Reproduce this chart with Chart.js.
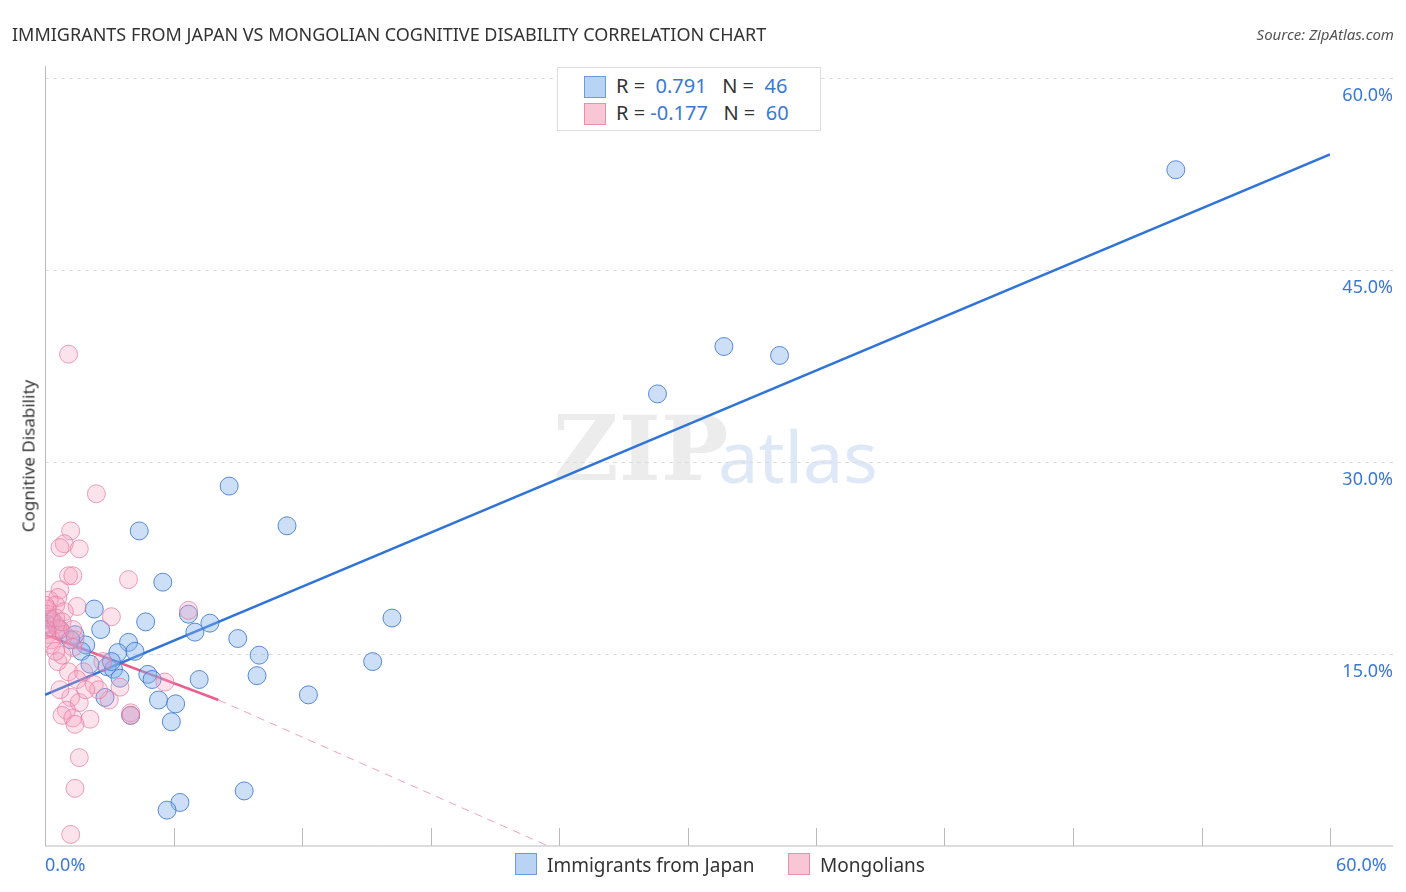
<!DOCTYPE html>
<html>
<head>
<meta charset="utf-8">
<script src="https://cdn.jsdelivr.net/npm/chart.js@4"></script>
<style>
  body { margin: 0; width: 1406px; height: 892px; background: #fff; font-family: "Noto Sans", sans-serif; overflow: hidden; }
  #wrap { position: absolute; left: 0; top: 0; width: 1406px; height: 892px; }
  .title { position: absolute; left: 12px; top: 22px; font-size: 18px; color: #333; }
  .source { position: absolute; right: 12px; top: 24px; font-size: 15px; color: #555; font-style: italic; }
  .ylabel { position: absolute; left: 28px; top: 456px; transform: translate(-50%, -50%) rotate(-90deg); font-size: 17px; color: #333; white-space: nowrap; }
  .legend { position: absolute; left: 557px; top: 67px; width: 262px; height: 62px; border: 1px solid #ddd; background: #fff; font-size: 20px; color: #333; }
  .legend div { position: absolute; left: 28px; height: 26px; line-height: 26px; }
  .legend span.v { color: #3a78d6; }
  .sw { position: absolute; left: -2px; width: 20px; height: 20px; border: 1px solid; }
  .bottom { position: absolute; top: 852px; font-size: 19px; color: #333; }
  .bsw { display: inline-block; width: 20px; height: 20px; border: 1px solid; vertical-align: -3px; margin-right: 10px; }
  .xl { position: absolute; top: 852px; font-size: 18px; color: #3a78d6; }
</style>
</head>
<body>
<div id="wrap"><canvas id="c" width="1406" height="892"></canvas></div>
<div class="title">IMMIGRANTS FROM JAPAN VS MONGOLIAN COGNITIVE DISABILITY CORRELATION CHART</div>
<div class="source">Source: ZipAtlas.com</div>
<div class="ylabel">Cognitive Disability</div>
<div class="legend">
  <div style="top:5px"><span class="sw" style="left:-2px;top:3px;background:#b9d3f5;border-color:#6d9be0;position:absolute"></span><span style="margin-left:30px">R = &nbsp;<span class="v">0.791</span> &nbsp;&nbsp;N = &nbsp;<span class="v">46</span></span></div>
  <div style="top:32px"><span class="sw" style="left:-2px;top:3px;background:#f9c6d6;border-color:#e891ad;position:absolute"></span><span style="margin-left:30px">R = <span class="v">-0.177</span> &nbsp;&nbsp;N = &nbsp;<span class="v">60</span></span></div>
</div>
<div class="xl" style="left:45px">0.0%</div>
<div class="xl" style="left:1336px">60.0%</div>
<div class="bottom" style="left:515px"><span class="bsw" style="background:#b9d3f5;border-color:#6d9be0"></span>Immigrants from Japan</div>
<div class="bottom" style="left:788px"><span class="bsw" style="background:#f9c6d6;border-color:#e891ad"></span>Mongolians</div>
<script>
// Immigrants from Japan (x %, y %)
const japanX = [52.8, 31.7, 34.3, 28.6, 8.6, 11.3, 4.4, 5.5, 16.2, 2.3, 6.7, 7.7, 4.7, 2.6, 7.0, 9.0, 3.9, 1.9, 1.4, 3.4, 4.2, 10.0, 15.3, 1.7, 2.1, 2.9, 3.2, 3.5, 4.8, 5.0, 9.9, 12.3, 2.8, 5.3, 6.1, 4.0, 5.9, 9.3, 6.3, 5.7, 0.3, 0.7, 0.1, 1.2, 3.1, 7.2];
const japanY = [52.8, 39.0, 38.3, 35.3, 28.1, 25.0, 24.6, 20.6, 17.8, 18.5, 18.1, 17.4, 17.5, 16.9, 16.7, 16.2, 15.9, 15.7, 16.5, 15.1, 15.2, 14.9, 14.4, 15.2, 14.2, 14.0, 13.8, 13.1, 13.4, 13.0, 13.3, 11.8, 11.6, 11.4, 11.1, 10.2, 9.7, 4.3, 3.4, 2.8, 17.7, 16.9, 17.3, 16.1, 14.4, 13.0];
// Mongolians
const mongolX = [1.1, 2.4, 1.2, 0.9, 0.7, 1.6, 1.1, 1.3, 3.9, 0.7, 0.6, 0.2, 1.5, 3.1, 0.5, 0.9, 0.1, 0.2, 0.5, 0.7, 0.1, 0.3, 0.6, 0.9, 1.4, 6.7, 1.3, 2.7, 0.6, 1.1, 1.8, 5.6, 1.5, 2.3, 3.5, 1.2, 3.0, 1.6, 1.0, 0.8, 1.3, 2.1, 4.0, 1.4, 1.6, 1.4, 1.2, 0.1, 0.3, 0.8, 0.0, 0.05, 0.5, 2.5, 1.9, 0.7, 4.0, 0.5, 0.8, 1.3];
const mongolY = [38.4, 27.5, 24.6, 23.6, 23.3, 23.2, 21.1, 21.1, 20.8, 20.0, 19.4, 19.2, 18.7, 17.9, 18.8, 18.3, 18.5, 17.7, 17.3, 16.9, 16.5, 16.1, 17.0, 16.5, 16.1, 18.4, 15.5, 14.4, 14.4, 13.6, 13.6, 12.8, 13.0, 12.6, 12.4, 11.6, 11.4, 11.2, 10.6, 10.2, 10.0, 9.9, 10.4, 9.5, 6.9, 4.5, 0.9, 18.1, 15.7, 14.9, 18.8, 16.9, 15.2, 12.2, 12.2, 12.2, 10.2, 17.8, 17.5, 16.9];
// trend lines
const japanTrend = [{x: 0, y: 11.8}, {x: 60, y: 54.0}];
const mongolTrendSolid = [{x: 0, y: 16.5}, {x: 8.1, y: 11.4}];
const mongolTrendDash = [{x: 8.1, y: 11.4}, {x: 23.5, y: 0}];
const yTicks = [15, 30, 45, 60];
const xTickMarks = [0, 6, 12, 18, 24, 30, 36, 42, 48, 54, 60];

const toPts = (xs, ys) => xs.map((x, i) => ({x, y: ys[i]}));

const decor = {
  id: 'decor',
  beforeDatasetsDraw(chart) {
    const {ctx, chartArea: a, scales: {x, y}} = chart;
    ctx.save();
    // watermark
    ctx.font = 'bold 90px "DejaVu Serif", serif';
    ctx.fillStyle = 'rgba(200,200,200,0.35)';
    ctx.textBaseline = 'middle';
    ctx.fillText('ZIP', 553, 457);
    ctx.font = '72px "Noto Sans", sans-serif';
    ctx.fillStyle = 'rgba(160,190,230,0.35)';
    ctx.fillText('atlas', 718, 462);
    // grid
    ctx.strokeStyle = '#ddd';
    ctx.lineWidth = 1;
    ctx.setLineDash([4, 4]);
    yTicks.forEach(v => {
      const py = Math.round(y.getPixelForValue(v)) + 0.5;
      ctx.beginPath(); ctx.moveTo(a.left, py); ctx.lineTo(1393, py); ctx.stroke();
    });
    ctx.setLineDash([]);
    ctx.strokeStyle = '#bbb';
    ctx.beginPath(); ctx.moveTo(a.left + 0.5, a.top); ctx.lineTo(a.left + 0.5, a.bottom); ctx.lineTo(1393, a.bottom); ctx.stroke();
    xTickMarks.forEach(v => {
      const px = Math.round(x.getPixelForValue(v)) + 0.5;
      ctx.beginPath(); ctx.moveTo(px, a.bottom); ctx.lineTo(px, a.bottom - 18); ctx.stroke();
    });
    // y labels
    ctx.fillStyle = '#3a78d6';
    ctx.font = '18px "Noto Sans", sans-serif';
    ctx.textAlign = 'right';
    yTicks.forEach(v => {
      ctx.fillText(v.toFixed(1) + '%', 1393, y.getPixelForValue(v) + 18);
    });
    ctx.restore();
  }
};

new Chart(document.getElementById('c'), {
  type: 'scatter',
  data: {
    datasets: [
      { data: toPts(mongolX, mongolY), backgroundColor: 'rgba(244,160,190,0.3)', borderColor: 'rgba(230,120,160,0.7)', borderWidth: 1, pointRadius: 9 },
      { data: toPts(japanX, japanY), backgroundColor: 'rgba(130,175,235,0.4)', borderColor: 'rgba(60,120,210,0.85)', borderWidth: 1, pointRadius: 9 },
      { type: 'line', data: japanTrend, borderColor: '#2f74d6', borderWidth: 2.5, pointRadius: 0 },
      { type: 'line', data: mongolTrendSolid, borderColor: '#e8608e', borderWidth: 2.5, pointRadius: 0 },
      { type: 'line', data: mongolTrendDash, borderColor: 'rgba(232,96,142,0.6)', borderWidth: 1, borderDash: [8, 6], pointRadius: 0 }
    ]
  },
  options: {
    responsive: false,
    animation: false,
    layout: { padding: { left: 45, top: 66, bottom: 46, right: 0 } },
    plugins: { legend: { display: false }, tooltip: { enabled: false } },
    scales: {
      x: { type: 'linear', min: 0, max: 60, display: false },
      y: { type: 'linear', min: 0, max: 60.9, position: 'right', grid: { display: false }, border: { display: false },
           ticks: { display: false }, afterFit(s) { s.width = 76; } }
    }
  },
  plugins: [decor]
});
</script>
</body>
</html>
